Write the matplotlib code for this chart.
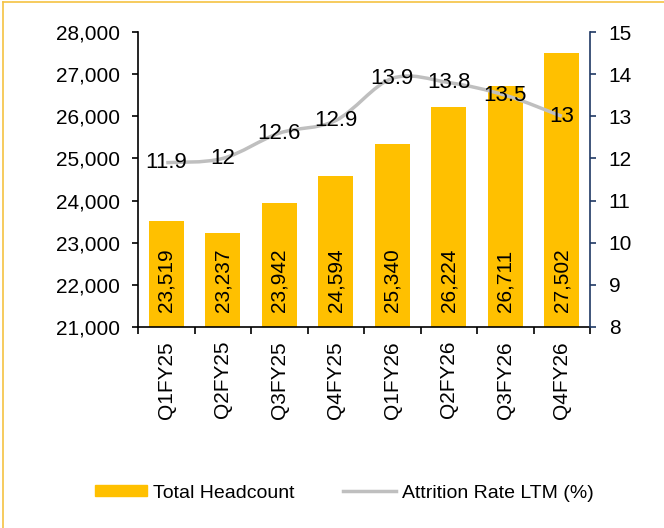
import numpy as np
import matplotlib
matplotlib.use("Agg")
import matplotlib.pyplot as plt
from matplotlib.path import Path
from matplotlib.patches import PathPatch
from matplotlib.lines import Line2D
from matplotlib.ticker import FuncFormatter, FixedLocator

plt.rcParams['font.family'] = ['Liberation Sans', 'DejaVu Sans']

# dados
trimestres = ['Q1FY25', 'Q2FY25', 'Q3FY25', 'Q4FY25', 'Q1FY26', 'Q2FY26', 'Q3FY26', 'Q4FY26']
headcount = [23519, 23237, 23942, 24594, 25340, 26224, 26711, 27502]
attrition = [11.9, 12, 12.6, 12.9, 13.9, 13.8, 13.5, 13]

cor_barra = '#FFC000'
cor_linha = '#BFBFBF'
cor_eixo_dir = '#1F3864'
fs = 15

fig = plt.figure(figsize=(6.64, 5.28), dpi=100)
ax = fig.add_axes([138/664, 1 - 327/528, 452/664, 295/528])
ax2 = ax.twinx()

x = np.arange(len(trimestres))

#barras do headcount
ax.bar(x, headcount, width=0.625, color=cor_barra, zorder=2, label='Total Headcount')
ax.set_xlim(-0.5, len(trimestres) - 0.5)
ax.set_ylim(21000, 28000)
ax.set_yticks(np.arange(21000, 28001, 1000))
ax.yaxis.set_major_formatter(FuncFormatter(lambda v, p: f'{int(v):,}'))

for i, v in enumerate(headcount):
    ax.annotate(f'{v:,}', xy=(i, 21000), xytext=(0, 11), textcoords='offset points',
                rotation=90, ha='center', va='bottom', fontsize=fs, zorder=3)

#eixo x: rotulos nos centros, tracinhos entre categorias
ax.set_xticks(x)
ax.set_xticklabels(trimestres, rotation=90, fontsize=fs)
ax.xaxis.set_minor_locator(FixedLocator(np.arange(-0.5, len(trimestres), 1.0)))
ax.tick_params(axis='x', which='major', length=0, pad=10)
ax.tick_params(axis='x', which='minor', length=5, width=1.2, direction='out')
ax.tick_params(axis='y', labelsize=fs, length=4, width=1.2, direction='out', pad=9)

for lado in ['top', 'right']:
    ax.spines[lado].set_visible(False)
ax.spines['left'].set_linewidth(1.2)
ax.spines['bottom'].set_linewidth(1.2)

#linha suavizada (curva de bezier passando pelos pontos)
ax2.set_ylim(8, 15)
ax2.set_yticks(np.arange(8, 16, 1))
ax2.tick_params(axis='y', labelsize=fs, length=4, width=1.2, direction='out', color=cor_eixo_dir, pad=9.5)
for lado in ['top', 'left', 'bottom']:
    ax2.spines[lado].set_visible(False)
ax2.spines['right'].set_color(cor_eixo_dir)
ax2.spines['right'].set_linewidth(1.2)

pts = np.column_stack([x, attrition]).astype(float)
verts = [tuple(pts[0])]
codes = [Path.MOVETO]
n = len(pts)
for i in range(n - 1):
    p0 = pts[max(i - 1, 0)]
    p1 = pts[i]
    p2 = pts[i + 1]
    p3 = pts[min(i + 2, n - 1)]
    c1 = p1 + (p2 - p0) / 6
    c2 = p2 - (p3 - p1) / 6
    verts += [tuple(c1), tuple(c2), tuple(p2)]
    codes += [Path.CURVE4] * 3
ax2.add_patch(PathPatch(Path(verts, codes), facecolor='none', edgecolor=cor_linha, lw=2.5, zorder=2))

for i, v in enumerate(attrition):
    ax2.text(i, v, f'{v:g}', ha='center', va='center', fontsize=16, zorder=3)

#legenda
handles = [plt.Rectangle((0, 0), 1, 1, color=cor_barra),
           Line2D([0], [0], color=cor_linha, lw=2.5)]
fig.legend(handles, ['Total Headcount', 'Attrition Rate LTM (%)'], loc='center',
           bbox_to_anchor=(344/664, 1 - 493/528), ncol=2, frameon=False, fontsize=14,
           handlelength=2.7, handleheight=0.55, handletextpad=0.3, columnspacing=2.5)

#moldura dourada (so topo e esquerda)
fig.add_artist(Line2D([3/664, 3/664], [0, 1 - 2/528], transform=fig.transFigure, color='#F5C242', lw=1.2))
fig.add_artist(Line2D([3/664, 1], [1 - 2/528, 1 - 2/528], transform=fig.transFigure, color='#F5C242', lw=1.2))

plt.savefig('out.png', dpi=100)
